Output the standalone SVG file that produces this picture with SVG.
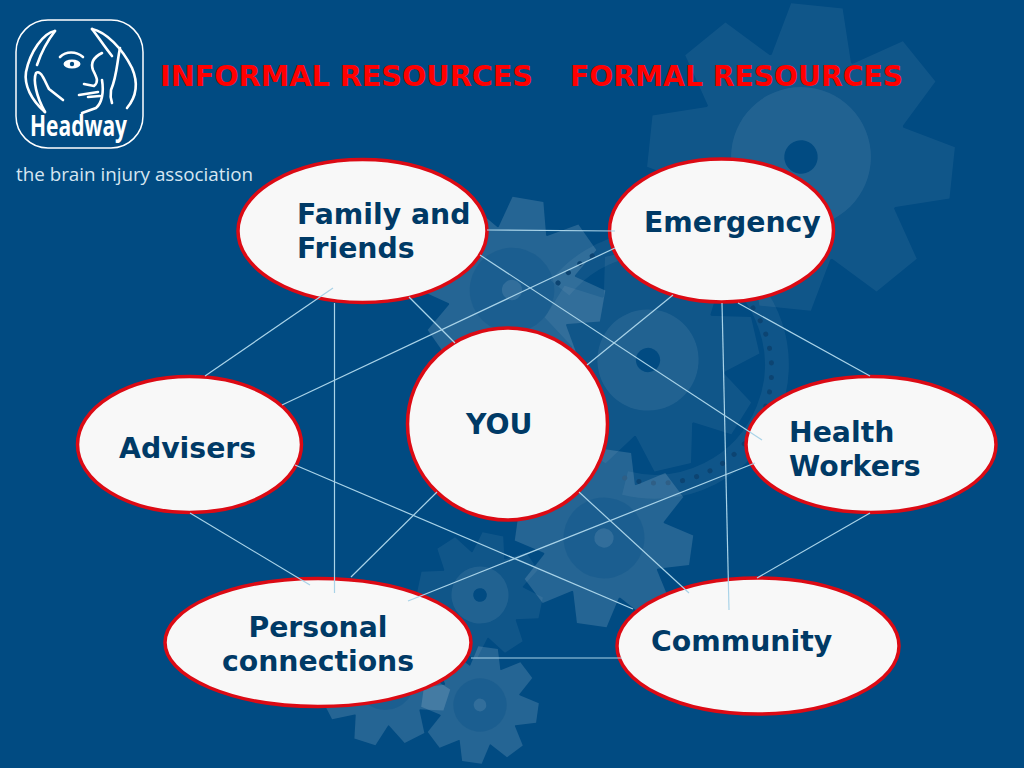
<svg xmlns="http://www.w3.org/2000/svg" xmlns:xlink="http://www.w3.org/1999/xlink" width="1024" height="768" viewBox="0 0 1024 768">
<style>
.bg{fill:#014b82}
.node{fill:#f8f8f8;stroke:#dc0a14;stroke-width:3.5}
.lbl{font-family:"DejaVu Sans",Verdana,sans-serif;font-weight:bold;font-size:28.3px;fill:#003a66}
.title{font-family:"DejaVu Sans",Verdana,sans-serif;font-weight:bold;font-size:27.5px;fill:#ff0000}
.conn line{stroke:#a9d3e8;stroke-width:1.2}
.face{fill:none;stroke:#fff;stroke-width:2.600;stroke-linecap:round;stroke-linejoin:round}
.hole{fill:#014b82}
.dots{fill:none;stroke:#0c4472;stroke-width:5;stroke-dasharray:.1 14.500;stroke-linecap:round}
</style>
<defs>
<g id="shape">
<circle r="70"/>
<polygon points="-17,-100 17,-100 27,-62 -27,-62"/>
<polygon points="-17,-100 17,-100 27,-62 -27,-62" transform="rotate(45)"/>
<polygon points="-17,-100 17,-100 27,-62 -27,-62" transform="rotate(90)"/>
<polygon points="-17,-100 17,-100 27,-62 -27,-62" transform="rotate(135)"/>
<polygon points="-17,-100 17,-100 27,-62 -27,-62" transform="rotate(180)"/>
<polygon points="-17,-100 17,-100 27,-62 -27,-62" transform="rotate(225)"/>
<polygon points="-17,-100 17,-100 27,-62 -27,-62" transform="rotate(270)"/>
<polygon points="-17,-100 17,-100 27,-62 -27,-62" transform="rotate(315)"/>
</g>
<g id="gA">
<use xlink:href="#shape" href="#shape" fill="#fff" opacity=".06"/>
<circle r="46" fill="#fff" opacity=".075"/>
<circle r="11" class="hole"/>
</g>
<g id="gB">
<use xlink:href="#shape" href="#shape" fill="#fff" opacity=".14"/>
<circle r="46" fill="#014b82" opacity=".25"/>
<circle r="11" fill="#fff" opacity=".1"/>
</g>
</defs>
<rect class="bg" width="1024" height="768"/>
<g id="gears">
<use xlink:href="#gA" href="#gA" transform="translate(801,157) rotate(6) scale(1.52)"/>
<use xlink:href="#gB" href="#gB" transform="translate(512,290) rotate(10) scale(.92)"/>
<use xlink:href="#gA" href="#gA" transform="translate(648,360) rotate(32) scale(1.1)"/>
<path d="M560 288A122 122 0 1 1 625 483" fill="none" stroke="#fff" stroke-opacity=".06" stroke-width="24"/>
<path class="dots" d="M753 308A113 113 0 0 1 619 476"/>
<path class="dots" d="M558 283A126 126 0 0 1 605 250"/>
<use xlink:href="#gB" href="#gB" transform="translate(604,538) rotate(8) scale(.88)"/>
<use xlink:href="#gA" href="#gA" transform="translate(480,595) rotate(12) scale(.62)"/>
<use xlink:href="#gB" href="#gB" transform="translate(385,680) rotate(18) scale(.65)"/>
<use xlink:href="#gB" href="#gB" transform="translate(480,705) rotate(8) scale(.58)"/>
</g>
<g id="logo">
<rect x="16" y="20" width="127" height="128" rx="32" fill="none" stroke="#fff" stroke-width="1.500"/>
<path class="face" d="M55 31C43 33 30 52 26 72C24 85 31 100 45 112"/>
<path class="face" d="M55 31C48 40 42 50 37 65"/>
<path class="face" d="M45 112C36 96 33 80 36 73C41 69 45 82 49 89L63 100"/>
<path class="face" d="M92 29C106 32 122 48 132 68C138 82 137 96 127 108"/>
<path class="face" d="M92 29C99 38 104 46 112 56"/>
<path class="face" d="M120 48C117 62 117 76 111 90C110 96 111 100 112 103"/>
<path class="face" d="M60 57C66 51 76 51 83 57"/>
<ellipse cx="72" cy="64" rx="8.500" ry="4.500" fill="#fff"/>
<circle cx="72" cy="64" r="2.200" fill="#014b82"/>
<path class="face" d="M102 53C94 57 90 62 93 70C97 78 99 82 94 86L84 84"/>
<path class="face" d="M79 95L98 92M88 97L100 96"/>
<path class="face" d="M102 80C104 92 102 103 96 108L82 113"/>
<text x="30" y="136" font-family="'Open Sans',sans-serif" font-weight="bold" font-size="28" fill="#fff" textLength="97" lengthAdjust="spacingAndGlyphs">Headway</text>
<text x="16" y="181" font-family="'Open Sans',sans-serif" font-size="19" fill="#d6e6f1" textLength="237" lengthAdjust="spacingAndGlyphs">the brain injury association</text>
</g>
<g id="titles">
<text class="title" x="160" y="86" textLength="373" lengthAdjust="spacingAndGlyphs">INFORMAL RESOURCES</text>
<text class="title" x="570" y="86" textLength="333" lengthAdjust="spacingAndGlyphs">FORMAL RESOURCES</text>
</g>
<g id="node-family"><ellipse class="node" cx="362.500" cy="231" rx="124.500" ry="71.500"/><text class="lbl" x="297" y="224">Family and</text><text class="lbl" x="297" y="258">Friends</text></g>
<g id="node-emergency"><ellipse class="node" cx="721.500" cy="230.500" rx="112" ry="71.500"/><text class="lbl" x="644" y="232">Emergency</text></g>
<g id="node-you"><ellipse class="node" cx="507.500" cy="424" rx="100" ry="96"/><text class="lbl" x="466" y="434">YOU</text></g>
<g id="node-advisers"><ellipse class="node" cx="189.500" cy="444.500" rx="112" ry="68"/><text class="lbl" x="119" y="458">Advisers</text></g>
<g id="node-health"><ellipse class="node" cx="871" cy="444.500" rx="125" ry="68"/><text class="lbl" x="789" y="442">Health</text><text class="lbl" x="789" y="476">Workers</text></g>
<g id="node-personal"><ellipse class="node" cx="318" cy="642.500" rx="153" ry="64"/><text class="lbl" x="318" y="637" text-anchor="middle">Personal</text><text class="lbl" x="318" y="671" text-anchor="middle">connections</text></g>
<g id="node-community"><ellipse class="node" cx="758" cy="646" rx="141" ry="68"/><text class="lbl" x="651" y="651">Community</text></g>
<g id="connectors" class="conn">
<line x1="487" y1="230" x2="615" y2="231"/>
<line x1="282" y1="405" x2="615" y2="248"/>
<line x1="205" y1="376" x2="333" y2="288"/>
<line x1="334.500" y1="303" x2="334.500" y2="593"/>
<line x1="409" y1="297" x2="455" y2="343"/>
<line x1="480" y1="255" x2="762" y2="440"/>
<line x1="587" y1="365" x2="673" y2="295"/>
<line x1="722" y1="303" x2="729" y2="610"/>
<line x1="738" y1="303" x2="870" y2="376"/>
<line x1="870" y1="513" x2="757" y2="578"/>
<line x1="295" y1="465" x2="633" y2="609"/>
<line x1="190" y1="513" x2="310" y2="585"/>
<line x1="437" y1="492" x2="351" y2="577"/>
<line x1="579" y1="492" x2="689" y2="593"/>
<line x1="755" y1="463" x2="408" y2="601"/>
<line x1="471" y1="658" x2="622" y2="658"/>
</g>
</svg>
